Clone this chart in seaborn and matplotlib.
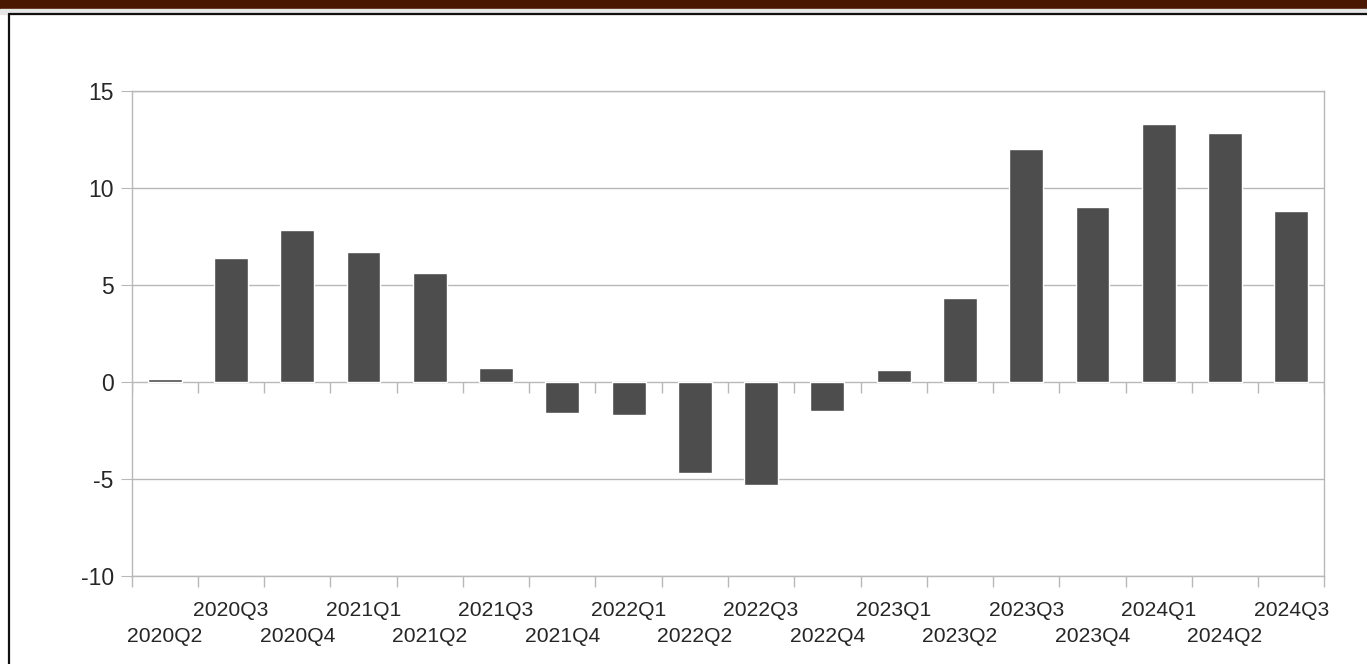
import numpy as np
import pandas as pd
import seaborn as sns
import matplotlib.pyplot as plt
from matplotlib.lines import Line2D
from matplotlib.patches import Rectangle

# quarterly values
quarters = ["2020Q2", "2020Q3", "2020Q4", "2021Q1", "2021Q2", "2021Q3",
            "2021Q4", "2022Q1", "2022Q2", "2022Q3", "2022Q4", "2023Q1",
            "2023Q2", "2023Q3", "2023Q4", "2024Q1", "2024Q2", "2024Q3"]
values = [0.15, 6.4, 7.8, 6.7, 5.6, 0.7,
          -1.6, -1.7, -4.7, -5.3, -1.5, 0.6,
          4.3, 12.0, 9.0, 13.3, 12.8, 8.8]
yticks = [-10, -5, 0, 5, 10, 15]
header = "(Quarterly, percentage change)"

sns.set_style("white")
plt.rcParams["font.family"] = ["Liberation Sans", "DejaVu Sans"]
plt.rcParams["axes.unicode_minus"] = False

GRID = "#b8b8b8"
BAR = "#4d4d4d"

df = pd.DataFrame({"quarter": quarters, "value": values})

fig = plt.figure(figsize=(13.67, 6.64), dpi=100)

# page decorations: brown header band, grey strip, black panel frame
fig.patches.append(Rectangle((0, 1 - 9 / 664), 1, 9 / 664, transform=fig.transFigure,
                             color="#4a1800", zorder=0))
fig.patches.append(Rectangle((0, 1 - 13.5 / 664), 1, 4.5 / 664, transform=fig.transFigure,
                             color="#e6e6e6", zorder=0))
fig.add_artist(Line2D([8.5 / 1367, 1], [1 - 14.3 / 664] * 2, transform=fig.transFigure,
                      color="#111111", lw=1.6))
fig.add_artist(Line2D([9.3 / 1367] * 2, [0, 1 - 14.3 / 664], transform=fig.transFigure,
                      color="#111111", lw=1.6))
# header title sits mostly above the page edge, as in the reference
fig.text(0.0, 1 + 12 / 664, header, color="white", fontsize=15, fontweight="bold",
         family="Open Sans", va="baseline", ha="left")

ax = fig.add_axes([0.09634, 0.13298, 0.87242, 0.73042])
sns.barplot(data=df, x="quarter", y="value", color=BAR, saturation=1,
            width=0.51, ax=ax, zorder=3)

n = len(quarters)
pos = np.arange(n)
bounds = np.arange(n + 1) - 0.5
ax.set_xlim(-0.5, n - 0.5)
ax.set_ylim(-10, 15)
ax.set_xlabel("")
ax.set_ylabel("")

# y axis
ax.set_yticks(yticks)
ax.set_yticklabels([str(t) for t in yticks], fontsize=16.5)
ax.yaxis.grid(True, color=GRID, lw=1.0)
ax.set_axisbelow(True)
ax.tick_params(axis="y", length=8, width=0.8, color=GRID, pad=5, left=True)

# x axis: staggered labels, lower row on major ticks, upper row on minor ticks
ax.set_xticks(pos[::2])
ax.set_xticklabels(quarters[::2], fontsize=15.2)
ax.set_xticks(pos[1::2], minor=True)
ax.set_xticklabels(quarters[1::2], minor=True, fontsize=15.2)
ax.tick_params(axis="x", which="major", length=0, pad=36.9)
ax.tick_params(axis="x", which="minor", length=0, pad=18.5)

# short ticks at category boundaries, under the zero line and the bottom axis
ax.vlines(bounds, 0, -0.57, color=GRID, lw=1.0, zorder=2)
ax.vlines(bounds, -10, -10.57, color=GRID, lw=1.0, zorder=2, clip_on=False)

for s in ax.spines.values():
    s.set_color(GRID)
    s.set_linewidth(1.0)

fig.savefig("out.png", dpi=100)
